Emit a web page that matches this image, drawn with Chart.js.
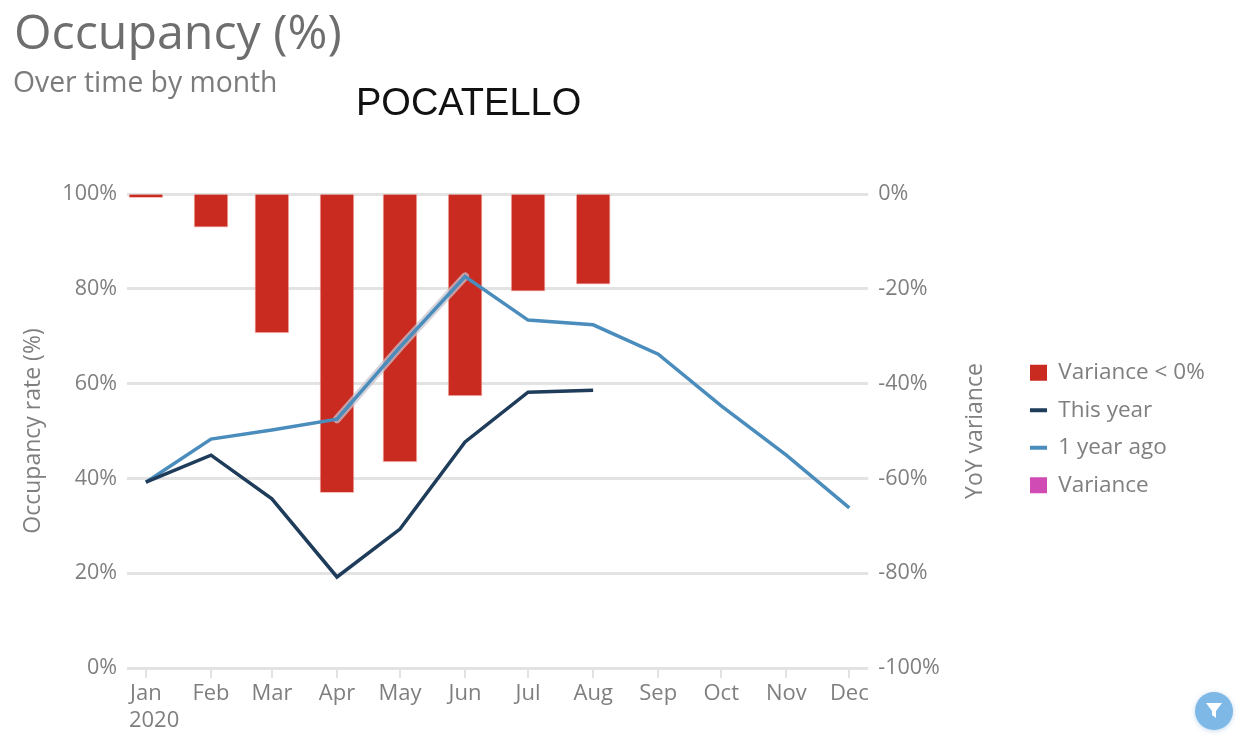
<!DOCTYPE html>
<html>
<head>
<meta charset="utf-8">
<title>Occupancy (%)</title>
<script src="https://cdn.jsdelivr.net/npm/chart.js@4"></script>
<style>
    html, body { margin: 0; background: #fff; overflow: hidden; }
    #wrap { position: relative; width: 1241px; height: 749px; font-family: "Open Sans", sans-serif; }
    canvas { position: absolute; left: 0; top: 0; filter: blur(0.6px); }
    .txt { position: absolute; white-space: nowrap; }
    #title { left: 14px; top: -3px; font-size: 48.3px; line-height: 66px; color: #6e6e6e; filter: blur(0.6px); }
    #sub { left: 13px; top: 62px; font-size: 28.3px; line-height: 38px; color: #7b7b7b; filter: blur(0.6px); }
    #place { left: 356px; top: 79px; font-family: "Liberation Sans", sans-serif; font-size: 38px; line-height: 46px; color: #111; }
    #filter { position: absolute; left: 1195px; top: 692px; width: 38px; height: 38px; border-radius: 50%;
              background: #7db8e6; box-shadow: 0 1px 5px rgba(120,170,220,.45); filter: blur(0.6px); }
    #filter svg { position: absolute; left: 9px; top: 10px; }
</style>
</head>
<body>
<div id="wrap">
    <canvas id="chart" width="1241" height="749"></canvas>
    <div class="txt" id="title">Occupancy (%)</div>
    <div class="txt" id="sub">Over time by month</div>
    <div class="txt" id="place">POCATELLO</div>
    <div id="filter">
        <svg width="20" height="18" viewBox="0 0 20 18"><path d="M2 1 H18 L12 9 V16 L8 13 V9 Z" fill="#fff"/></svg>
    </div>
</div>

<script>
// ---------- DATOS ----------
const months = ['Jan', 'Feb', 'Mar', 'Apr', 'May', 'Jun', 'Jul', 'Aug', 'Sep', 'Oct', 'Nov', 'Dec'];
// days since Jan 1 2020, the axis is a real calendar so months are not evenly spaced
const monthDays = [0, 31, 60, 91, 121, 152, 182, 213, 244, 274, 305, 335];
const thisYear = [39.2, 44.9, 35.7, 19.2, 29.3, 47.7, 58.2, 58.6];
const oneYearAgo = [39.2, 48.3, 50.2, 52.5, 67.7, 82.6, 73.4, 72.4, 66.2, 55.3, 44.9, 33.8];
const varianceNeg = [-0.8, -7, -29.3, -63, -56.5, -42.6, -20.5, -19];
const leftTicks = [0, 20, 40, 60, 80, 100];
const rightTicks = [-100, -80, -60, -40, -20, 0];

const TEXT = '#7f7f7f';
const GRID = '#e3e3e3';
const FONT = '"Open Sans", sans-serif';

function toPoints(values) {
    return values.map((v, i) => ({ x: monthDays[i], y: v }));
}

// extra texts: "2020" under Jan, and the right axis title which reads bottom to top
const extraText = {
    id: 'extraText',
    afterDraw(c) {
        const g = c.ctx;
        g.save();
        g.fillStyle = TEXT;
        g.textBaseline = 'middle';
        g.font = '22px ' + FONT;
        g.textAlign = 'left';
        g.fillText('2020', c.scales.x.getPixelForValue(monthDays[0]) - 17, 721);
        g.translate(975, 431);
        g.rotate(-Math.PI / 2);
        g.textAlign = 'center';
        g.font = '23px ' + FONT;
        g.fillText('YoY variance', 0, 0);
        g.restore();
    }
};

// legend box is placed by hand, beside the plot and not centred on the canvas
const legendPlace = {
    id: 'legendPlace',
    afterLayout(c) {
        const l = c.legend;
        const h = l.bottom - l.top;
        l.top = 429 - h / 2;
        l.bottom = l.top + h;
        l.left = 1015;
    }
};

const chart = new Chart(document.getElementById('chart'), {
    type: 'bar',
    plugins: [extraText, legendPlace],
    data: {
        datasets: [
            { type: 'line', label: 'This year', data: toPoints(thisYear), borderColor: '#1f3d5b', backgroundColor: '#1f3d5b',
              borderWidth: 3.5, pointRadius: 0, tension: 0, yAxisID: 'yLeft', order: 1 },
            { type: 'line', label: '1 year ago', data: toPoints(oneYearAgo), borderColor: '#4a8dbd', backgroundColor: '#4a8dbd',
              borderWidth: 3.5, pointRadius: 0, tension: 0, yAxisID: 'yLeft', order: 2 },
            // pale outline of the 1 year ago line, only from Apr to Jun
            { type: 'line', label: 'halo', data: toPoints(oneYearAgo.map((v, i) => (i >= 3 && i <= 5) ? v : null)),
              borderColor: 'rgba(200,195,205,.75)', borderWidth: 8, borderCapStyle: 'round', borderJoinStyle: 'round',
              pointRadius: 0, tension: 0, yAxisID: 'yLeft', order: 3 },
            { label: 'Variance < 0%', data: toPoints(varianceNeg), backgroundColor: '#c92b20', barThickness: 34,
              borderColor: 'rgba(240,150,140,.6)', borderWidth: 1,
              grouped: false, yAxisID: 'yRight', order: 4 },
            { label: 'Variance', data: [], backgroundColor: '#d14bb5', barThickness: 34,
              grouped: false, yAxisID: 'yRight', order: 5 }
        ]
    },
    options: {
        responsive: false,
        animation: false,
        layout: { padding: { top: 194, right: 26, left: 0, bottom: 0 } },
        plugins: {
            tooltip: { enabled: false },
            legend: {
                position: 'right',
                labels: {
                    color: TEXT,
                    font: { family: FONT, size: 22.5 },
                    usePointStyle: true,
                    boxHeight: 16,
                    pointStyleWidth: 17,
                    padding: 15,
                    generateLabels() {
                        return [
                            { text: 'Variance < 0%', pointStyle: 'rect', fillStyle: '#c92b20', strokeStyle: '#c92b20', lineWidth: 0, fontColor: TEXT },
                            { text: 'This year', pointStyle: 'line', fillStyle: '#1f3d5b', strokeStyle: '#1f3d5b', lineWidth: 4, fontColor: TEXT },
                            { text: '1 year ago', pointStyle: 'line', fillStyle: '#4a8dbd', strokeStyle: '#4a8dbd', lineWidth: 4, fontColor: TEXT },
                            { text: 'Variance', pointStyle: 'rect', fillStyle: '#d14bb5', strokeStyle: '#d14bb5', lineWidth: 0, fontColor: TEXT }
                        ];
                    }
                }
            }
        },
        scales: {
            x: {
                type: 'linear',
                offset: false,
                min: -9,
                max: 344,
                afterBuildTicks(s) { s.ticks = monthDays.map(d => ({ value: d })); },
                afterFit(s) { s.height = 81; },
                border: { display: false },
                grid: { offset: false, drawOnChartArea: false, drawTicks: true, tickLength: 10, color: GRID, lineWidth: 2 },
                ticks: {
                    autoSkip: false,
                    maxRotation: 0,
                    padding: 3,
                    color: TEXT,
                    font: { family: FONT, size: 22 },
                    callback: v => months[monthDays.indexOf(v)]
                }
            },
            yLeft: {
                type: 'linear',
                position: 'left',
                min: 0,
                max: 100,
                afterBuildTicks(s) { s.ticks = leftTicks.map(v => ({ value: v })); },
                afterFit(s) { s.width = 127; },
                border: { display: false },
                grid: { color: GRID, lineWidth: 3, drawTicks: false },
                title: { display: true, text: 'Occupancy rate (%)', color: TEXT, font: { family: FONT, size: 23 }, padding: { top: 20, bottom: 0 } },
                ticks: { color: TEXT, padding: 10, font: { family: FONT, size: 21.5 }, callback: v => v + '%' }
            },
            yRight: {
                type: 'linear',
                position: 'right',
                min: -100,
                max: 0,
                afterBuildTicks(s) { s.ticks = rightTicks.map(v => ({ value: v })); },
                afterFit(s) { s.width = 147; },
                border: { display: false },
                grid: { drawOnChartArea: false, drawTicks: false },
                ticks: { color: TEXT, padding: 10, font: { family: FONT, size: 21.5 }, callback: v => v + '%' }
            }
        }
    }
});
</script>
</body>
</html>
